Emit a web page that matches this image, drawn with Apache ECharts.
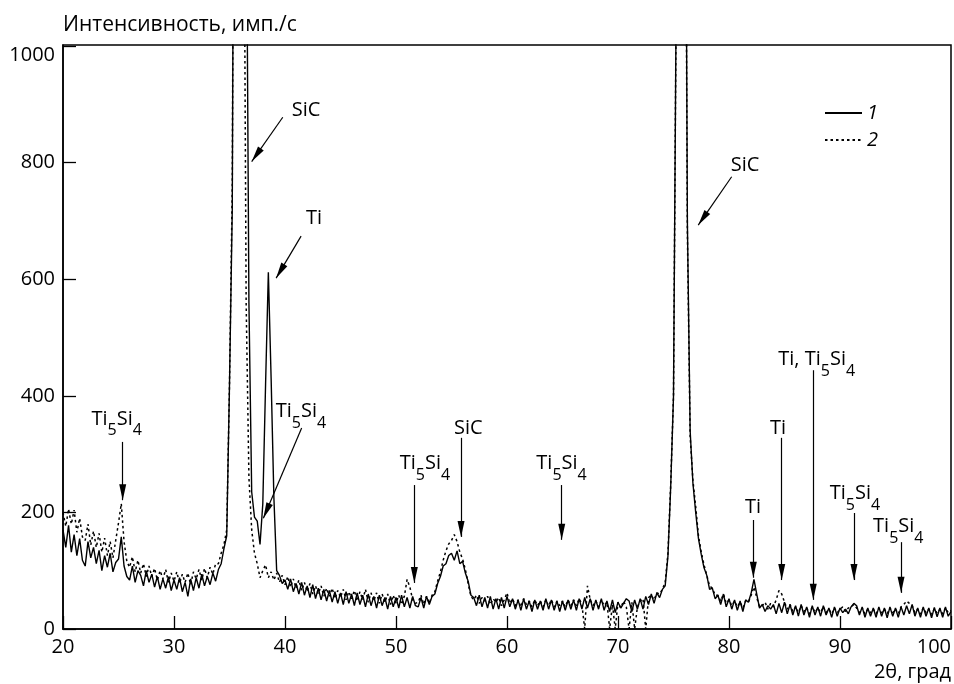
<!DOCTYPE html>
<html>
<head>
<meta charset="utf-8">
<script src="https://cdn.jsdelivr.net/npm/echarts@6/dist/echarts.min.js"></script>
<style>
  html, body { margin: 0; padding: 0; background: #fff; }
  #chart { width: 954px; height: 684px; }
</style>
</head>
<body>
<div id="chart"></div>
<script>
// scan grid: 2θ from 20 to 100 deg, step 0.25
const angleStart = 20
const angleStep = 0.25

const seriesNames = ['1', '2']

// intensity, counts/s (curve 1, solid)
const curve1 = [
  170, 140, 178, 132, 162, 126, 155, 118, 108, 150, 122, 140, 112, 135, 100, 126, 106, 130, 98, 114,
  120, 158, 108, 90, 84, 108, 80, 100, 92, 74, 100, 80, 94, 72, 90, 68, 86, 70, 90, 66,
  84, 68, 88, 64, 80, 56, 86, 66, 88, 70, 94, 74, 90, 76, 96, 82, 102, 112, 138, 160,
  420, 720, 2000, 4200, 3200, 2000, 1350, 560, 235, 192, 185, 145, 215, 420, 612, 430, 225, 100, 92, 78,
  84, 68, 86, 64, 78, 60, 80, 58, 74, 54, 76, 52, 70, 50, 68, 48, 66, 46, 64, 44,
  62, 42, 64, 44, 60, 40, 62, 42, 58, 38, 60, 40, 56, 36, 58, 40, 54, 34, 56, 38,
  54, 36, 58, 38, 54, 36, 56, 40, 38, 54, 36, 56, 42, 56, 60, 78, 90, 108, 112, 126,
  130, 118, 134, 112, 116, 96, 82, 58, 54, 40, 58, 38, 54, 36, 56, 34, 52, 34, 54, 36,
  56, 38, 52, 34, 50, 32, 52, 34, 48, 30, 50, 34, 48, 32, 52, 34, 50, 32, 48, 30,
  48, 32, 50, 34, 50, 32, 52, 34, 54, 36, 52, 32, 50, 34, 52, 32, 48, 30, 50, 28,
  46, 36, 44, 52, 48, 30, 50, 34, 52, 34, 56, 42, 60, 44, 62, 54, 68, 74, 125, 245,
  400, 1100, 3000, 3600, 1800, 700, 340, 250, 200, 155, 128, 105, 92, 68, 70, 52, 58, 42, 60, 38,
  52, 34, 50, 32, 48, 30, 50, 46, 62, 85, 60, 36, 42, 30, 40, 34, 42, 26, 44, 28,
  46, 26, 42, 24, 40, 22, 42, 24, 38, 20, 40, 24, 38, 22, 40, 24, 36, 20, 38, 22,
  36, 28, 34, 26, 38, 44, 40, 24, 38, 20, 36, 22, 36, 20, 38, 22, 36, 19, 38, 22,
  36, 20, 38, 24, 40, 26, 42, 22, 36, 20, 38, 22, 36, 19, 37, 21, 36, 20, 38, 22, 30
]

// curve 2, dotted
const curve2 = [
  200, 176, 206, 180, 204, 166, 190, 158, 152, 180, 144, 168, 140, 164, 132, 156, 126, 150, 122, 152,
  182, 215, 150, 116, 106, 124, 98, 118, 96, 112, 90, 108, 90, 104, 84, 100, 86, 102, 80, 96,
  82, 98, 78, 94, 80, 96, 76, 98, 86, 102, 84, 104, 88, 106, 94, 112, 112, 130, 145, 170,
  420, 760, 2000, 4000, 3000, 1500, 560, 260, 170, 130, 112, 88, 100, 110, 88, 98, 84, 96, 80, 92,
  76, 90, 72, 86, 70, 84, 66, 80, 64, 78, 60, 74, 60, 74, 56, 70, 56, 70, 52, 66,
  54, 68, 50, 64, 52, 66, 48, 64, 50, 68, 46, 62, 48, 62, 44, 60, 46, 60, 42, 58,
  44, 58, 42, 56, 85, 72, 50, 44, 46, 58, 42, 56, 44, 58, 64, 82, 98, 118, 134, 146,
  152, 162, 150, 132, 120, 102, 78, 56, 50, 58, 44, 54, 48, 56, 42, 52, 46, 54, 40, 50,
  62, 44, 52, 40, 50, 38, 52, 42, 48, 38, 50, 40, 48, 38, 50, 40, 50, 38, 48, 40,
  48, 38, 50, 40, 50, 40, 52, 42, 0, 74, 50, 40, 48, 38, 50, 40, 46, 0, 42, 0,
  46, 36, 48, 38, 0, 46, 0, 38, 48, 52, 0, 54, 58, 50, 62, 60, 68, 80, 130, 250,
  400, 1100, 3000, 3500, 1700, 680, 330, 255, 210, 160, 132, 110, 92, 74, 70, 58, 58, 48, 60, 44,
  50, 40, 48, 38, 46, 36, 48, 46, 58, 72, 54, 38, 40, 46, 34, 44, 38, 50, 66, 60,
  46, 34, 42, 30, 38, 28, 40, 30, 36, 26, 38, 28, 36, 28, 38, 28, 34, 26, 36, 28,
  34, 38, 30, 36, 38, 42, 36, 28, 36, 26, 34, 28, 34, 26, 36, 28, 34, 26, 36, 28,
  34, 26, 38, 42, 48, 44, 40, 28, 34, 26, 36, 28, 34, 25, 35, 27, 34, 26, 36, 28, 32
]

// phase labels: [text, 2θ, intensity]
const phaseLabels = [
  ['SiC', 41.89, 890],
  ['Ti', 42.61, 705],
  ['Ti5Si4', 41.44, 365],
  ['Ti5Si4', 24.84, 352],
  ['Ti5Si4', 52.61, 275],
  ['SiC', 56.51, 345],
  ['Ti5Si4', 64.91, 275],
  ['SiC', 81.44, 796],
  ['Ti', 82.16, 209],
  ['Ti', 84.41, 345],
  ['Ti, Ti5Si4', 87.9, 454],
  ['Ti5Si4', 91.35, 224],
  ['Ti5Si4', 95.25, 167],
]

// arrows: [from, to] in [2θ, intensity]
const arrows = [
  [[39.8, 878], [37.0, 802]],
  [[41.45, 674], [39.2, 602]],
  [[41.5, 345], [38.05, 190]],
  [[25.38, 321], [25.38, 221]],
  [[51.65, 247], [51.65, 79]],
  [[55.86, 328], [55.86, 158]],
  [[64.93, 247], [64.93, 153]],
  [[80.24, 776], [77.23, 693]],
  [[82.19, 187], [82.19, 88]],
  [[84.75, 328], [84.75, 84]],
  [[87.59, 444], [87.59, 50]],
  [[91.26, 199], [91.26, 84]],
  [[95.5, 149], [95.5, 62]],
]

const font = '"Open Sans", "Noto Sans", sans-serif'

const toPairs = (values) => values.map((v, i) => [angleStart + i * angleStep, v])

// 'Ti5Si4' -> rich text with subscripts
const phaseText = (name) =>
  ('{n|' + name.replace(/(\d)/g, '}{s|$1}{n|') + '}').replace(/\{n\|\}/g, '')

const rich = {
  n: { fontSize: 20, fontFamily: font, color: '#000', lineHeight: 20, verticalAlign: 'top' },
  s: { fontSize: 16, fontFamily: font, color: '#000', lineHeight: 30, verticalAlign: 'bottom' },
}

const chart = echarts.init(document.getElementById('chart'), null, { renderer: 'canvas' })

const option = {
  animation: false,
  backgroundColor: '#fff',
  textStyle: { fontFamily: font, color: '#000' },
  title: [
    {
      text: 'Интенсивность, имп./с',
      left: 63,
      top: 13,
      padding: 0,
      textStyle: { fontSize: 21, fontWeight: 'normal', fontFamily: font, color: '#000', lineHeight: 24 },
    },
    {
      text: '2θ, град',
      right: 3,
      top: 660,
      padding: 0,
      textStyle: { fontSize: 20, fontWeight: 'normal', fontFamily: font, color: '#000', lineHeight: 24 },
    },
  ],
  legend: {
    data: seriesNames,
    orient: 'vertical',
    left: 824,
    top: 103,
    itemWidth: 37,
    itemHeight: 14,
    itemGap: 7,
    selectedMode: false,
    padding: 0,
    itemStyle: { opacity: 0 },
    textStyle: { fontSize: 20, fontStyle: 'italic', fontFamily: font, color: '#000' },
  },
  grid: {
    left: 63,
    right: 3,
    top: 45,
    bottom: 55,
    show: true,
    borderColor: '#000',
    borderWidth: 1.5,
    containLabel: false,
    outerBoundsMode: 'none',
  },
  xAxis: {
    type: 'value',
    min: 20,
    max: 100,
    interval: 10,
    axisLine: { show: true, lineStyle: { color: '#000', width: 1.5 } },
    axisTick: { show: true, inside: true, length: 13, lineStyle: { color: '#000', width: 1.3 } },
    axisLabel: { fontSize: 20, fontFamily: font, color: '#000', margin: 8, alignMaxLabel: 'right' },
    splitLine: { show: false },
  },
  yAxis: {
    type: 'value',
    min: 0,
    max: 1002,
    interval: 200,
    axisLine: { show: true, lineStyle: { color: '#000', width: 1.5 } },
    axisTick: { show: true, inside: true, length: 13, lineStyle: { color: '#000', width: 1.3 } },
    axisLabel: {
      fontSize: 20,
      fontFamily: font,
      color: '#000',
      margin: 8,
      showMaxLabel: false,
      formatter: (v) => (v === 1000 ? '{top|1000}' : String(v)),
      rich: { top: { fontSize: 20, fontFamily: font, color: '#000', padding: [18, 0, 0, 0] } },
    },
    splitLine: { show: false },
  },
  series: [
    {
      name: seriesNames[0],
      type: 'line',
      data: toPairs(curve1),
      showSymbol: false,
      symbol: 'none',
      clip: true,
      lineStyle: { color: '#000', width: 1.4 },
      itemStyle: { color: '#000' },
      emphasis: { disabled: true },
      markLine: {
        silent: true,
        animation: false,
        symbol: ['none', 'triangle'],
        lineStyle: { color: '#000', width: 1.2, type: 'solid' },
        label: { show: false },
        emphasis: { disabled: true },
        data: arrows.map(([a, b]) => [
          { coord: a },
          { coord: b, symbolSize: [7, 16], symbolOffset: [0, 8] },
        ]),
      },
      markPoint: {
        silent: true,
        animation: false,
        symbol: 'circle',
        symbolSize: 0,
        itemStyle: { color: 'rgba(0,0,0,0)' },
        label: { show: true, position: 'inside', color: '#000', rich },
        data: phaseLabels.map(([name, x, y]) => ({
          coord: [x, y],
          label: { formatter: () => phaseText(name) },
        })),
      },
    },
    {
      name: seriesNames[1],
      type: 'line',
      data: toPairs(curve2),
      showSymbol: false,
      symbol: 'none',
      clip: true,
      lineStyle: { color: '#000', width: 1.5, type: [2.5, 3] },
      itemStyle: { color: '#000' },
      emphasis: { disabled: true },
    },
  ],
}

chart.setOption(option)
</script>
</body>
</html>
